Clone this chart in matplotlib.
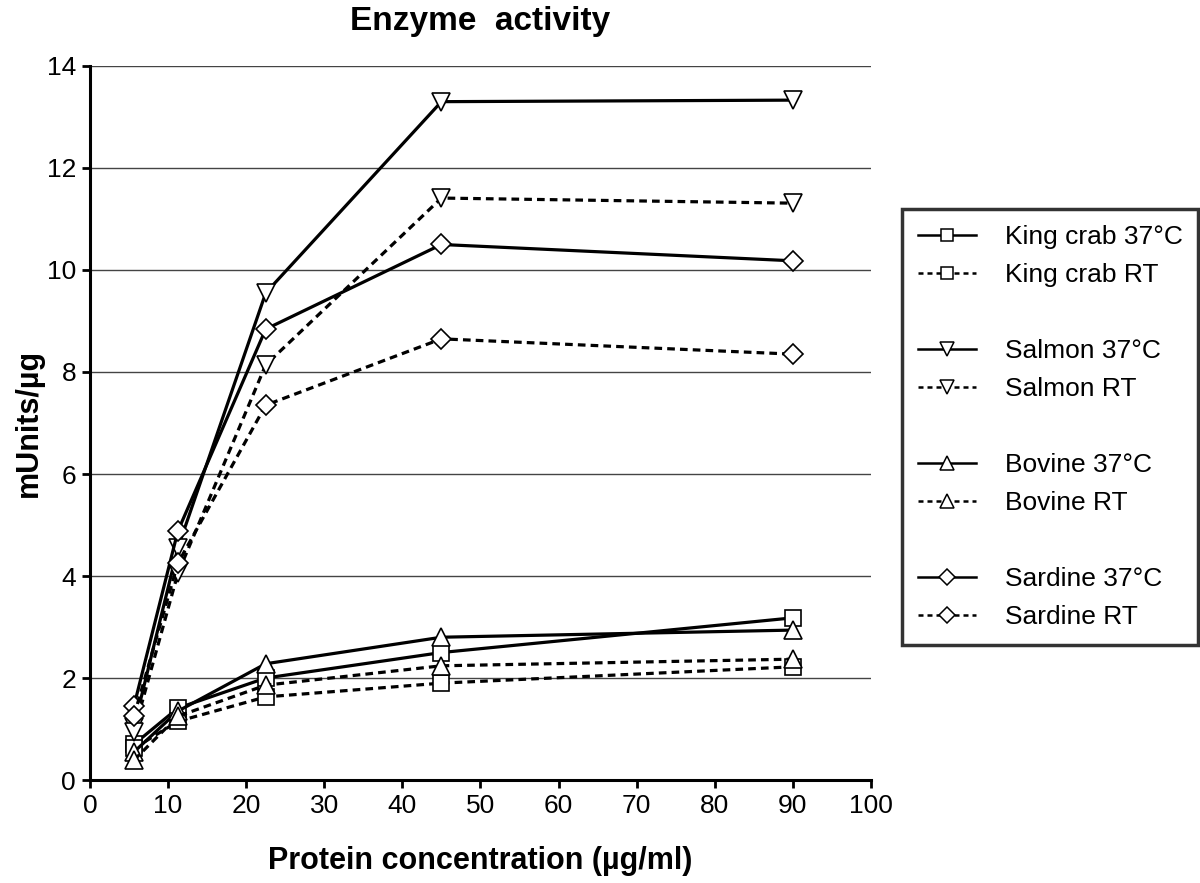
import matplotlib
matplotlib.use("Agg")
import matplotlib.pyplot as plt
from matplotlib.lines import Line2D
from matplotlib import font_manager

# ---- data ----
conc = [5.625, 11.25, 22.5, 45, 90]
king_crab_37 = [0.70, 1.41, 2.00, 2.50, 3.18]
king_crab_rt = [0.62, 1.15, 1.63, 1.90, 2.22]
salmon_37 = [1.04, 4.55, 9.55, 13.30, 13.33]
salmon_rt = [0.95, 4.05, 8.14, 11.41, 11.31]
bovine_37 = [0.55, 1.35, 2.28, 2.80, 2.94]
bovine_rt = [0.39, 1.25, 1.86, 2.24, 2.37]
sardine_37 = [1.45, 4.88, 8.84, 10.50, 10.18]
sardine_rt = [1.25, 4.25, 7.35, 8.65, 8.35]

labels = ["King crab 37°C", "King crab RT", "Salmon 37°C", "Salmon RT",
          "Bovine 37°C", "Bovine RT", "Sardine 37°C", "Sardine RT"]
title = "Enzyme  activity"
xlabel = "Protein concentration (µg/ml)"
ylabel = "mUnits/µg"
xticks = list(range(0, 101, 10))
yticks = list(range(0, 15, 2))

avail = {f.name for f in font_manager.fontManager.ttflist}
narrow = "Liberation Sans Narrow" if "Liberation Sans Narrow" in avail else "Liberation Sans"

fig = plt.figure(figsize=(12, 8.83), dpi=100)
ax = fig.add_axes([0.075, 0.1166, 0.6508, 0.8087])

dash = (0, (2.4, 1.6))
series = [
    (king_crab_37, "s", "-", 11),
    (king_crab_rt, "s", dash, 11),
    (salmon_37, "v", "-", 13),
    (salmon_rt, "v", dash, 13),
    (bovine_37, "^", "-", 13),
    (bovine_rt, "^", dash, 13),
    (sardine_37, "D", "-", 10),
    (sardine_rt, "D", dash, 10),
]
handles = []
for (vals, mk, ls, ms), lab in zip(series, labels):
    ax.plot(conc, vals, color="black", lw=2.3, linestyle=ls, marker=mk,
            markersize=ms, markerfacecolor="white", markeredgecolor="black",
            markeredgewidth=1.2, zorder=3)
    handles.append(Line2D([], [], color="black", lw=1.8, linestyle=ls if ls == "-" else (0, (2.0, 1.6)),
                          marker=mk, markersize=ms * 0.8, markerfacecolor="white",
                          markeredgecolor="black", markeredgewidth=1.1, label=lab))

ax.set_xlim(0, 100)
ax.set_ylim(0, 14)
ax.set_xticks(xticks)
ax.set_yticks(yticks)
ax.yaxis.grid(True, color="#444444", lw=1.0)
ax.set_axisbelow(True)
for s in ["top", "right"]:
    ax.spines[s].set_visible(False)
for s in ["left", "bottom"]:
    ax.spines[s].set_linewidth(2.2)
ax.tick_params(axis="both", direction="out", length=6, width=2.0, labelsize=19, pad=4)
for lab in ax.get_xticklabels() + ax.get_yticklabels():
    lab.set_fontfamily(narrow)

ax.set_title(title, fontsize=24, fontweight="bold", family=narrow, pad=26)
ax.set_xlabel(xlabel, fontsize=22, fontweight="bold", family=narrow, labelpad=20)
ax.set_ylabel(ylabel, fontsize=22, fontweight="bold", family=narrow, labelpad=2)

blank = Line2D([], [], color="none", label=" ")
leg_handles = [handles[0], handles[1], blank, handles[2], handles[3], blank,
               handles[4], handles[5], blank, handles[6], handles[7]]
leg = fig.legend(handles=leg_handles, labels=[h.get_label() for h in leg_handles],
                 loc="upper left", bbox_to_anchor=(0.7517, 0.2673, 0.2463, 0.4957),
                 mode="expand", frameon=True, fancybox=False,
                 handlelength=2.2, handletextpad=1.1, labelspacing=0.53,
                 borderpad=0.6, borderaxespad=0.0, prop={"family": "Liberation Sans", "size": 19})
leg.get_frame().set_edgecolor("black")
leg.get_frame().set_linewidth(2.5)

fig.savefig("out.png", dpi=100)
